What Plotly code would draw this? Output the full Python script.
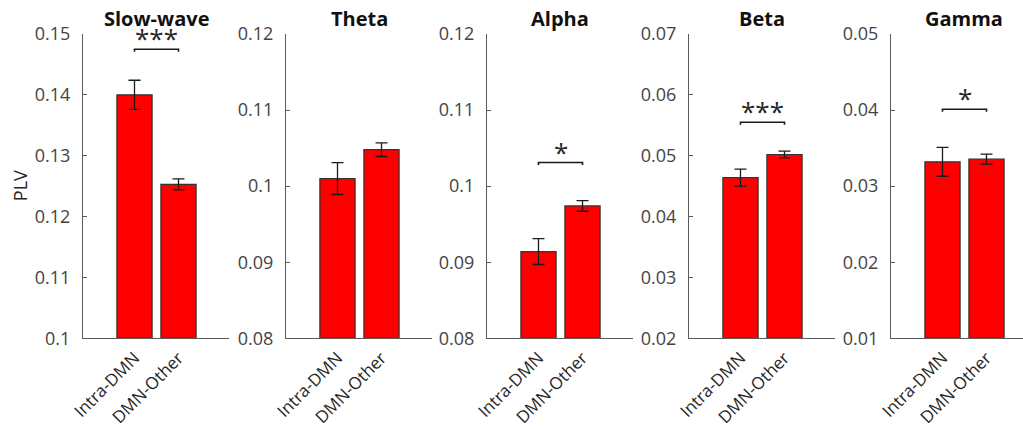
import plotly.graph_objects as go

# Phase-locking values per frequency band for two connection groups
bands = ["Slow-wave", "Theta", "Alpha", "Beta", "Gamma"]
groups = ["Intra-DMN", "DMN-Other"]
intra_mean = [0.1400, 0.1010, 0.0914, 0.0464, 0.0332]
intra_err = [0.0024, 0.0021, 0.0017, 0.0014, 0.0019]
other_mean = [0.1253, 0.1048, 0.0974, 0.0502, 0.03355]
other_err = [0.0009, 0.0009, 0.0007, 0.00055, 0.00065]
y_min = [0.10, 0.08, 0.08, 0.02, 0.01]
y_max = [0.15, 0.12, 0.12, 0.07, 0.05]
y_step = 0.01
stars = ["***", "", "*", "***", "*"]
bracket_y = [0.1475, None, 0.1031, 0.0555, 0.0401]

W, H = 1023, 429
# panel placement in pixels
panel_left = [83, 286, 487, 689, 891]
panel_width = 146
plot_top, plot_bottom = 34, 338.3
unit_px = 44.0           # pixels per category step
left_pad = 51.5 / unit_px

FONT = "Open Sans"
TICK_COLOR = "#444444"
AXIS_COLOR = "#5a5a5a"

fig = go.Figure()
layout = dict(
    width=W, height=H,
    margin=dict(l=0, r=0, t=0, b=0, autoexpand=False),
    paper_bgcolor="white", plot_bgcolor="white",
    showlegend=False,
    font=dict(family=FONT, color=TICK_COLOR, size=18),
)
annotations = []

ydom = [1 - plot_bottom / H, 1 - plot_top / H]

for i, band in enumerate(bands):
    k = "" if i == 0 else str(i + 1)
    xa, ya = "x" + k, "y" + k
    x0 = panel_left[i] / W
    x1 = min((panel_left[i] + panel_width) / W, 1.0)
    span_units = (x1 * W - panel_left[i]) / unit_px
    xr = [1 - left_pad, 1 - left_pad + span_units]

    # bars rise from the axis floor y_min up to the group mean
    fig.add_trace(go.Bar(
        x=[1, 2],
        y=[intra_mean[i] - y_min[i], other_mean[i] - y_min[i]],
        base=[y_min[i], y_min[i]],
        width=0.8,
        marker=dict(color="#ff0000", line=dict(color="#333333", width=1.2)),
        error_y=dict(type="data", array=[intra_err[i], other_err[i]],
                     color="#1a1a1a", thickness=1.3, width=6, visible=True),
        xaxis=xa, yaxis=ya, hoverinfo="skip",
    ))

    n = int(round((y_max[i] - y_min[i]) / y_step))
    tv = [round(y_min[i] + j * y_step, 4) for j in range(n + 1)]
    layout["xaxis" + k] = dict(
        domain=[x0, x1], range=xr, anchor=ya, automargin=False,
        tickvals=[1, 2], ticktext=groups, tickangle=-45,
        showline=True, linecolor=AXIS_COLOR, linewidth=1.2,
        ticks="", showgrid=False, zeroline=False,
        tickfont=dict(family=FONT, size=17, color="#262626"),
        ticklabelstandoff=2,
    )
    layout["yaxis" + k] = dict(
        domain=ydom, range=[y_min[i], y_max[i]], anchor=xa, automargin=False,
        tickvals=tv, ticktext=[f"{v:g}" for v in tv],
        showline=True, linecolor=AXIS_COLOR, linewidth=1.2,
        ticks="inside", ticklen=4, tickcolor=AXIS_COLOR,
        showgrid=False, zeroline=False,
        tickfont=dict(family=FONT, size=18, color=TICK_COLOR),
        ticklabelstandoff=8,
    )

    # panel title, centred over the full panel width
    annotations.append(dict(
        text=f"<b>{band}</b>", xref="paper", yref="paper",
        x=(panel_left[i] + panel_width / 2) / W,
        y=1 - 18 / H, xanchor="center", yanchor="middle", showarrow=False,
        font=dict(family=FONT, size=20, color="#111111"),
    ))

    # significance bracket
    if bracket_y[i] is not None:
        drop = 2.5 / (plot_bottom - plot_top) * (y_max[i] - y_min[i])
        fig.add_trace(go.Scatter(
            x=[1, 1, 2, 2],
            y=[bracket_y[i] - drop, bracket_y[i], bracket_y[i], bracket_y[i] - drop],
            mode="lines", line=dict(color="#1a1a1a", width=1.6),
            xaxis=xa, yaxis=ya, hoverinfo="skip", cliponaxis=False,
        ))
        annotations.append(dict(
            text=stars[i], xref=xa, yref=ya, x=1.5, y=bracket_y[i],
            xanchor="center", yanchor="bottom", yshift=-9, showarrow=False,
            font=dict(family=FONT, size=26, color="#262626"),
        ))

# y-axis label on the first panel
annotations.append(dict(
    text="PLV", xref="paper", yref="paper", x=20 / W,
    y=(ydom[0] + ydom[1]) / 2, textangle=-90,
    xanchor="center", yanchor="middle", showarrow=False,
    font=dict(family=FONT, size=18, color="#262626"),
))

layout["annotations"] = annotations
fig.update_layout(**layout)
fig.write_html("out.html")
